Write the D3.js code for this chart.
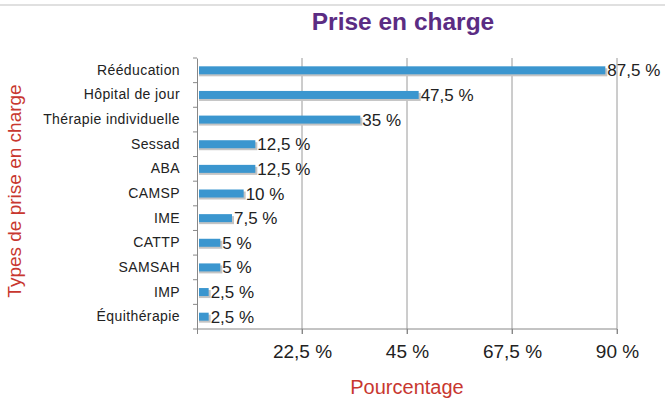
<!DOCTYPE html>
<html>
<head>
<meta charset="utf-8">
<script src="https://cdn.jsdelivr.net/npm/d3@7"></script>
<style>
  body { margin: 0; background: #fff; }
  svg { font-family: "Liberation Sans", Arial, sans-serif; }
</style>
</head>
<body>
<div id="chart"></div>
<script>
const categories = ['Rééducation', 'Hôpital de jour', 'Thérapie individuelle', 'Sessad', 'ABA', 'CAMSP', 'IME', 'CATTP', 'SAMSAH', 'IMP', 'Équithérapie']
const values = [87.5, 47.5, 35, 12.5, 12.5, 10, 7.5, 5, 5, 2.5, 2.5]
const xTicks = [22.5, 45, 67.5, 90]

const data = categories.map((c, i) => ({ name: c, value: values[i] }))

const w = 665
const h = 403
const plotLeft = 197
const plotRight = 617
const plotTop = 58
const plotBottom = 329

const fmt = v => String(v).replace('.', ',') + ' %'

const xScale = d3.scaleLinear()
                .domain([0, 90])
                .range([plotLeft, plotRight])

const yScale = d3.scaleBand()
                .domain(categories)
                .range([plotTop, plotBottom])

const svg = d3.select('#chart')
            .append('svg')
            .attr('width', w)
            .attr('height', h)

// faint frame line at the top
svg.append('line')
    .attr('x1', 0).attr('x2', w)
    .attr('y1', 5).attr('y2', 5)
    .attr('stroke', '#e0e0e0')
    .attr('stroke-width', 2)

svg.append('text')
    .attr('x', 403)
    .attr('y', 30)
    .attr('text-anchor', 'middle')
    .attr('font-size', 24.5)
    .attr('font-weight', 'bold')
    .attr('fill', '#5b2c83')
    .text('Prise en charge')

// gridlines
svg.append('g')
    .selectAll('line')
    .data(xTicks)
    .enter()
    .append('line')
    .attr('x1', d => xScale(d))
    .attr('x2', d => xScale(d))
    .attr('y1', plotTop)
    .attr('y2', plotBottom + 5)
    .attr('stroke', '#9a9a9a')
    .attr('stroke-width', 1)

// bar shadows
const barH = 8
svg.append('g')
    .selectAll('rect')
    .data(data)
    .enter()
    .append('rect')
    .attr('x', xScale(0) + 2)
    .attr('y', d => yScale(d.name) + yScale.bandwidth() / 2 - barH / 2 + 2)
    .attr('width', d => xScale(d.value) - xScale(0))
    .attr('height', barH)
    .attr('fill', '#c4c4c4')

svg.append('g')
    .selectAll('rect')
    .data(data)
    .enter()
    .append('rect')
    .attr('x', xScale(0) + 2)
    .attr('y', d => yScale(d.name) + yScale.bandwidth() / 2 - barH / 2)
    .attr('width', d => xScale(d.value) - xScale(0) - 2)
    .attr('height', barH)
    .attr('fill', '#3b96cf')

// value labels
svg.append('g')
    .selectAll('text')
    .data(data)
    .enter()
    .append('text')
    .attr('x', d => xScale(d.value) + 2)
    .attr('y', d => yScale(d.name) + yScale.bandwidth() / 2 + 6)
    .attr('font-size', 17)
    .attr('fill', '#222')
    .text(d => fmt(d.value))

// y axis
let yAxis = d3.axisLeft(yScale).tickSize(0).tickPadding(17)
const gy = svg.append('g')
    .attr('transform', `translate(${plotLeft}, 0)`)
    .call(yAxis)
gy.select('.domain').attr('stroke', '#888')
gy.selectAll('text')
    .attr('font-size', 14)
    .attr('letter-spacing', 0.4)
    .attr('fill', '#222')
    .attr('font-family', '"Liberation Sans", Arial, sans-serif')

svg.append('g')
    .selectAll('line')
    .data(d3.range(categories.length + 1))
    .enter()
    .append('line')
    .attr('x1', plotLeft - 4)
    .attr('x2', plotLeft)
    .attr('y1', i => plotTop + i * yScale.step())
    .attr('y2', i => plotTop + i * yScale.step())
    .attr('stroke', '#888')

// x axis
let xAxis = d3.axisBottom(xScale).tickValues([0].concat(xTicks)).tickSize(5).tickPadding(11).tickFormat(d => d === 0 ? '' : fmt(d))
const gx = svg.append('g')
    .attr('transform', `translate(0, ${plotBottom})`)
    .call(xAxis)
gx.select('.domain').attr('stroke', '#888').attr('d', `M${plotLeft},0H${plotRight}`)
gx.selectAll('.tick line').attr('stroke', '#888')
gx.selectAll('text')
    .attr('font-size', 19)
    .attr('fill', '#222')
    .attr('font-family', '"Liberation Sans", Arial, sans-serif')

svg.append('text')
    .attr('x', 407)
    .attr('y', 394)
    .attr('text-anchor', 'middle')
    .attr('font-size', 20)
    .attr('fill', '#c8372f')
    .text('Pourcentage')

svg.append('text')
    .attr('transform', `translate(21, 191) rotate(-90)`)
    .attr('text-anchor', 'middle')
    .attr('font-size', 19)
    .attr('fill', '#c8372f')
    .text('Types de prise en charge')
</script>
</body>
</html>
